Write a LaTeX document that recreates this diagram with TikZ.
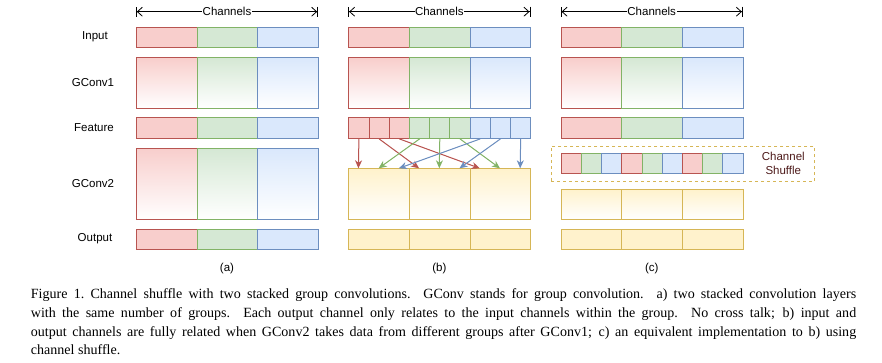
\documentclass[tikz,border=0pt]{standalone}
\usepackage{fontspec}
\setmainfont{Liberation Serif}
\setsansfont{Liberation Sans}
\usetikzlibrary{arrows.meta,positioning}
\definecolor{redline}{HTML}{B85450}
\definecolor{redfill}{HTML}{F8CECC}
\definecolor{grnline}{HTML}{82B366}
\definecolor{grnfill}{HTML}{D5E8D4}
\definecolor{bluline}{HTML}{6C8EBF}
\definecolor{blufill}{HTML}{DAE8FC}
\definecolor{yelline}{HTML}{D6B656}
\definecolor{yelfill}{HTML}{FFF2CC}
\definecolor{shuftext}{HTML}{4D1A1A}

\begin{document}
\begin{tikzpicture}[x=1pt,y=-1pt,
every node/.style={font=\sffamily\fontsize{11.5}{14}\selectfont,align=center},
cell/.style={inner sep=0pt,anchor=north west,line width=1pt,minimum width=60.67pt},
small/.style={cell,minimum width=20.22pt,minimum height=20.6pt},
redc/.style={draw=redline,fill=redfill},
grnc/.style={draw=grnline,fill=grnfill},
bluc/.style={draw=bluline,fill=blufill},
yelc/.style={draw=yelline,fill=yelfill},
redsh/.style={draw=redline,top color=redfill,bottom color=white},
grnsh/.style={draw=grnline,top color=grnfill,bottom color=white},
blush/.style={draw=bluline,top color=blufill,bottom color=white},
yelsh/.style={draw=yelline,top color=yelfill,bottom color=white},
ruler/.style={line width=0.8pt,{Bar[width=10pt]Straight Barb[length=5pt,width=9pt]}-{Straight Barb[length=5pt,width=9pt]Bar[width=10pt]}},
arr/.style={-{Stealth[length=8pt,width=7pt,inset=2.5pt]},line width=1pt},
caption/.style={anchor=base west,inner sep=0pt,font=\rmfamily\fontsize{14.05}{18.8}\selectfont}
]
\useasboundingbox (0,0) rectangle (882,362);

% row names
\node (lin) at (95,36.7) {Input};
\node (lg1) at (93,82.5) {GConv1};
\node (lft) at (94,127.5) {Feature};
\node (lg2) at (93,183.5) {GConv2};
\node (lout) at (95,238.8) {Output};

% the three panels: channels ruler, input, GConv1
\foreach \p/\x in {a/136,b/348.3,c/560.7}{
  \coordinate (\p-l) at (\x,11.7);
  \coordinate (\p-r) at (\x+182,11.7);
  \draw[ruler] (\p-l) -- node[fill=white,inner sep=0.5pt] (\p-ch) {Channels} (\p-r);
  \foreach \i/\c/\s in {1/redc/redsh,2/grnc/grnsh,3/bluc/blush}{
    \node[cell,\c,minimum height=20pt] (\p-in-\i) at (\x+\i*60.67-60.67,26.7) {};
    \node[cell,\s,minimum height=50.4pt] (\p-g1-\i) at (\x+\i*60.67-60.67,57.3) {};
  }
}

% (a) feature, GConv2, output
\foreach \i/\c/\s in {1/redc/redsh,2/grnc/grnsh,3/bluc/blush}{
  \node[cell,\c,minimum height=20.4pt] (a-ft-\i) at (136+\i*60.67-60.67,117.3) {};
  \node[cell,\s,minimum height=71pt] (a-g2-\i) at (136+\i*60.67-60.67,148) {};
  \node[cell,\c,minimum height=20.3pt] (a-out-\i) at (136+\i*60.67-60.67,228.7) {};
}
\node (a-cap) at (227,268.7) {(a)};

% (b) feature split into channels, fully related GConv2
\foreach \k/\c in {1/redc,2/redc,3/redc,4/grnc,5/grnc,6/grnc,7/bluc,8/bluc,9/bluc}
  \node[small,\c] (b-ft-\k) at (348.3+\k*20.22-20.22,117.3) {};
\foreach \i in {1,2,3}{
  \node[cell,yelsh,minimum height=50.4pt] (b-g2-\i) at (348.3+\i*60.67-60.67,168.3) {};
  \node[cell,yelc,minimum height=20.3pt] (b-out-\i) at (348.3+\i*60.67-60.67,228.7) {};
}
\foreach \k in {1,...,9}
  \coordinate (b-t-\k) at (348.3+\k*20.22-10.11,168.3);
\foreach \s/\t/\c in {1/1/redline,2/4/redline,3/7/redline,4/2/grnline,5/5/grnline,6/8/grnline,7/3/bluline,8/6/bluline,9/9/bluline}
  \draw[arr,draw=\c,fill=\c] (b-ft-\s.south) -- (b-t-\t);
\node (b-cap) at (439.3,268.7) {(b)};

% (c) channel shuffle
\foreach \i/\c in {1/redc,2/grnc,3/bluc}
  \node[cell,\c,minimum height=20.4pt] (c-ft-\i) at (560.7+\i*60.67-60.67,117.3) {};
\node[inner sep=0pt,anchor=north west,draw=yelline,line width=1pt,dash pattern=on 3pt off 3pt,minimum width=263.3pt,minimum height=35.6pt] (c-box) at (550.7,145.7) {};
\foreach \k/\c in {1/redc,2/grnc,3/bluc,4/redc,5/grnc,6/bluc,7/redc,8/grnc,9/bluc}
  \node[small,\c] (c-sh-\k) at (560.7+\k*20.22-20.22,152.7) {};
\node[text=shuftext] (c-shuf) at (783.3,163.7) {Channel\\Shuffle};
\foreach \i in {1,2,3}{
  \node[cell,yelsh,minimum height=30.3pt] (c-g2-\i) at (560.7+\i*60.67-60.67,188.7) {};
  \node[cell,yelc,minimum height=20.3pt] (c-out-\i) at (560.7+\i*60.67-60.67,228.7) {};
}
\node (c-cap) at (651.7,268.7) {(c)};

% caption
\node[caption] (cap1) at (30.7,298.5) {\makebox[825.3pt][s]{Figure 1.\ Channel shuffle with two stacked group convolutions.  GConv stands for group convolution.  a) two stacked convolution layers}};
\node[caption] (cap2) at (30.7,317.3) {\makebox[825.3pt][s]{with the same number of groups.  Each output channel only relates to the input channels within the group.  No cross talk; b) input and}};
\node[caption] (cap3) at (30.7,336.1) {\makebox[825.3pt][s]{output channels are fully related when GConv2 takes data from different groups after GConv1; c) an equivalent implementation to b) using}};
\node[caption] (cap4) at (30.7,354.9) {channel shuffle.};
\end{tikzpicture}
\end{document}
